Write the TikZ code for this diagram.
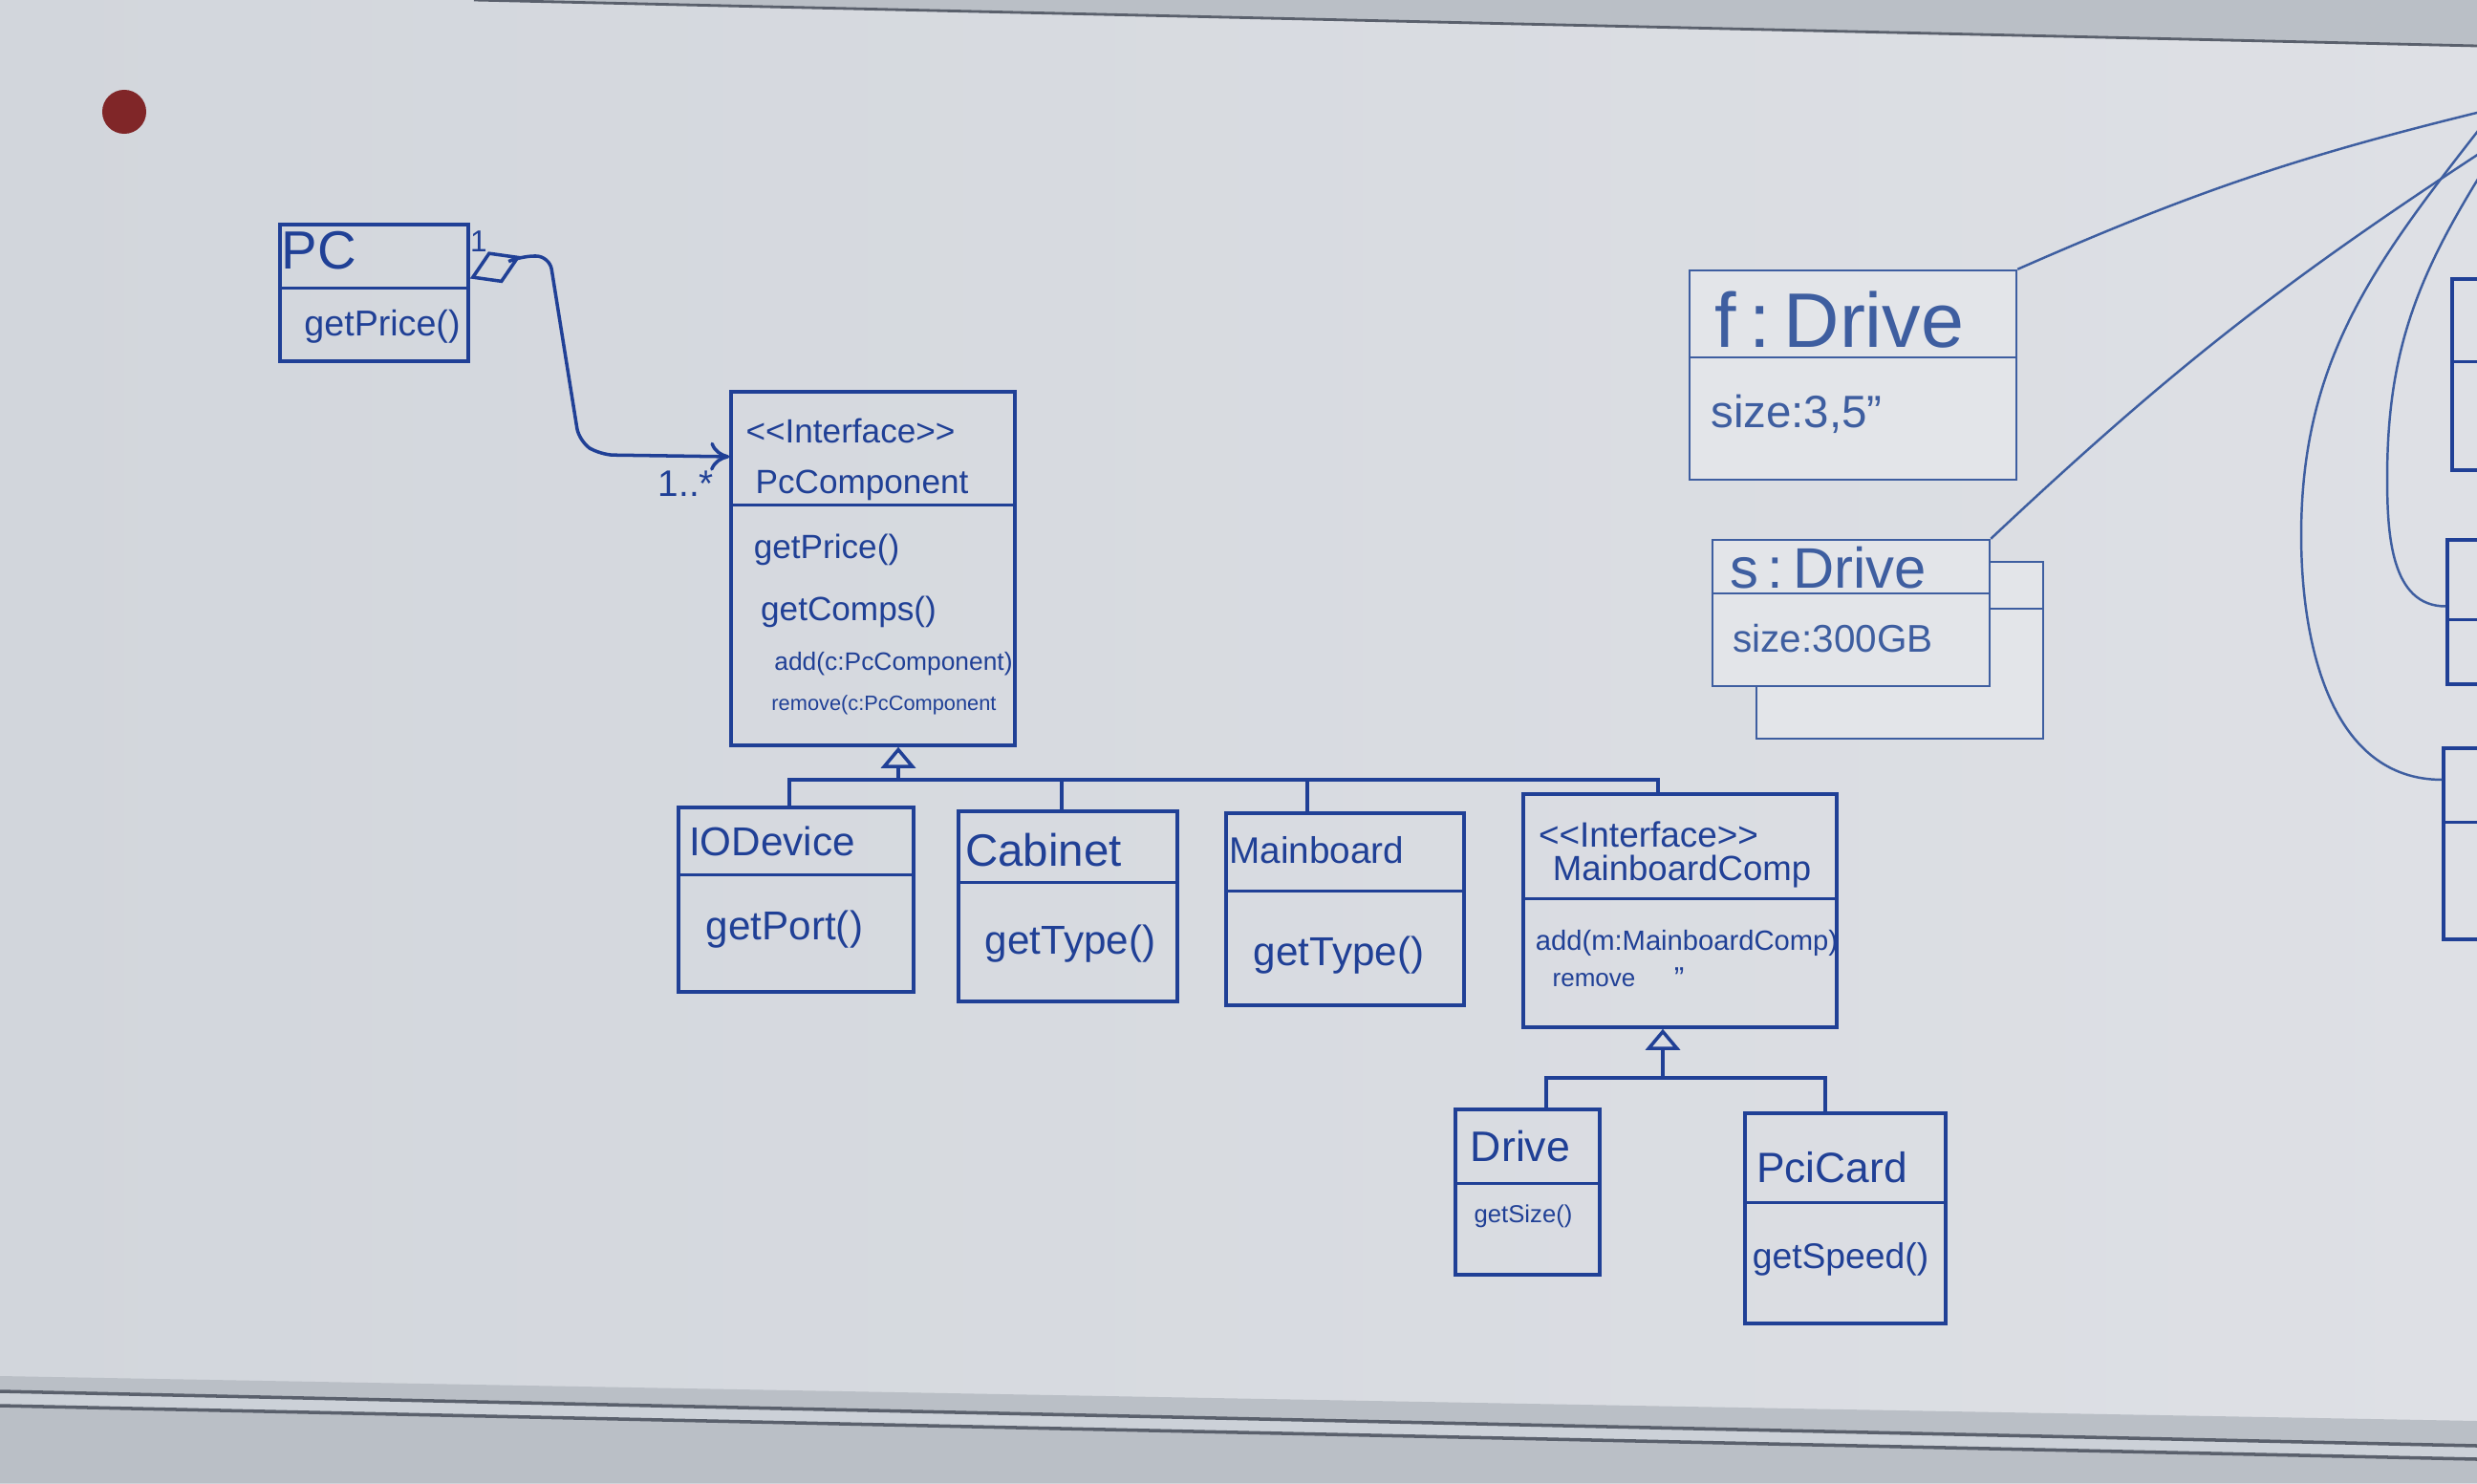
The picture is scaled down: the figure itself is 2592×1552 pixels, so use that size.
\documentclass[tikz,border=0pt]{standalone}
\usepackage{fontspec}
\setmainfont{Liberation Sans}
\usetikzlibrary{arrows.meta,fit,calc}
\definecolor{ink}{RGB}{32,64,150}
\definecolor{inkl}{RGB}{62,94,160}
\definecolor{boardL}{RGB}{210,214,220}
\definecolor{boardM}{RGB}{234,235,238}
\definecolor{boardR}{RGB}{222,224,229}
\definecolor{frame}{RGB}{186,191,198}
\definecolor{rail}{RGB}{204,209,216}
\definecolor{framedark}{RGB}{90,96,108}
\definecolor{magnet}{RGB}{128,38,40}
\newcommand\fsz[1]{\fontsize{#1}{#1}\selectfont}
\begin{document}
\begin{tikzpicture}[x=0.01cm,y=-0.01cm,
  box/.style={draw=ink, line width=1pt, inner sep=0pt},
  obox/.style={draw=inkl, line width=0.7pt, inner sep=0pt, fill=boardM!45!boardR},
  txt/.style={text=ink, inner sep=0pt},
  otxt/.style={text=inkl, inner sep=0pt},
  link/.style={draw=ink, line width=1pt},
  olink/.style={draw=inkl, line width=0.7pt},
  gen/.style={link, -{Triangle[open, length=0.22cm, width=0.36cm, line width=1pt]}}]

% board background
\clip (0,0) rectangle (2592,1552);
\shade[left color=boardL, middle color=boardM, right color=boardR] (0,0) rectangle (2592,1552);
\fill[frame] (496,0) -- (2592,0) -- (2592,48) -- cycle;
\draw[framedark, line width=0.8pt] (496,0) -- (2592,48);
\fill[frame] (0,1440) -- (2592,1487) -- (2592,1513) -- (0,1456) -- cycle;
\fill[rail] (0,1456) -- (2592,1513) -- (2592,1527) -- (0,1471) -- cycle;
\fill[frame] (0,1471) -- (2592,1527) -- (2592,1552) -- (0,1552) -- cycle;
\draw[framedark, line width=1pt] (0,1456) -- (2592,1513);
\draw[framedark, line width=1pt] (0,1471) -- (2592,1527);
\node[circle, fill=magnet, inner sep=0pt, minimum size=0.46cm] (magnet) at (130,117) {};

% class boxes
\node[box, fit={(293,235) (490,378)}] (pc) {};
\draw[ink, line width=1pt] ([yshift=-0.68cm]pc.north west) -- ([yshift=-0.68cm]pc.north east);
\node[txt, font=\fsz{16}] (pcT) at (334,262) {PC};
\node[txt, font=\fsz{10.7}] (pcM) at (400,342) {getPrice()};

\node[box, fit={(765,410) (1062,780)}] (pcc) {};
\draw[ink, line width=1pt] ([yshift=-1.2cm]pcc.north west) -- ([yshift=-1.2cm]pcc.north east);
\node[txt, font=\fsz{10}] (pccS) at (890,451) {<\kern0pt<Interface>\kern0pt>};
\node[txt, font=\fsz{10}] (pccN) at (902,508) {PcComponent};
\node[txt, font=\fsz{10}] (pccM1) at (865,575) {getPrice()};
\node[txt, font=\fsz{10}] (pccM2) at (888,640) {getComps()};
\node[txt, font=\fsz{7.5}] (pccM3) at (935,695) {add(c:PcComponent)};
\node[txt, font=\fsz{6.2}] (pccM4) at (925,738) {remove(c:PcComponent};

\node[box, fit={(710,845) (956,1038)}] (io) {};
\draw[ink, line width=1pt] ([yshift=-0.72cm]io.north west) -- ([yshift=-0.72cm]io.north east);
\node[txt, font=\fsz{12}] (ioT) at (808,880) {IODevice};
\node[txt, font=\fsz{12}] (ioM) at (821,973) {getPort()};

\node[box, fit={(1003,849) (1232,1048)}] (cab) {};
\draw[ink, line width=1pt] ([yshift=-0.76cm]cab.north west) -- ([yshift=-0.76cm]cab.north east);
\node[txt, font=\fsz{13.5}] (cabT) at (1092,890) {Cabinet};
\node[txt, font=\fsz{12}] (cabM) at (1120,988) {getType()};

\node[box, fit={(1283,851) (1532,1052)}] (mb) {};
\draw[ink, line width=1pt] ([yshift=-0.83cm]mb.north west) -- ([yshift=-0.83cm]mb.north east);
\node[txt, font=\fsz{11}] (mbT) at (1378,890) {Mainboard};
\node[txt, font=\fsz{12}] (mbM) at (1401,1000) {getType()};

\node[box, fit={(1594,831) (1922,1075)}] (mbc) {};
\draw[ink, line width=1pt] ([yshift=-1.11cm]mbc.north west) -- ([yshift=-1.11cm]mbc.north east);
\node[txt, font=\fsz{10.5}] (mbcS) at (1725,873) {<\kern0pt<Interface>\kern0pt>};
\node[txt, font=\fsz{10.4}] (mbcN) at (1760,912) {MainboardComp};
\node[txt, font=\fsz{8.3}] (mbcM1) at (1765,987) {add(m:MainboardComp)};
\node[txt, font=\fsz{7.4}] (mbcM2) at (1668,1026) {remove};
\node[txt, font=\fsz{9}] (mbcM3) at (1757,1024) {"};

\node[box, fit={(1523,1161) (1674,1334)}] (drv) {};
\draw[ink, line width=1pt] ([yshift=-0.79cm]drv.north west) -- ([yshift=-0.79cm]drv.north east);
\node[txt, font=\fsz{12.7}] (drvT) at (1591,1200) {Drive};
\node[txt, font=\fsz{7.3}] (drvM) at (1594,1273) {getSize()};

\node[box, fit={(1826,1165) (2036,1385)}] (pci) {};
\draw[ink, line width=1pt] ([yshift=-0.95cm]pci.north west) -- ([yshift=-0.95cm]pci.north east);
\node[txt, font=\fsz{12.6}] (pciT) at (1917,1222) {PciCard};
\node[txt, font=\fsz{10.6}] (pciM) at (1926,1318) {getSpeed()};

% object boxes
\node[obox, fit={(1768,283) (2110,502)}] (fdrv) {};
\draw[inkl, line width=0.7pt] ([yshift=-0.92cm]fdrv.north west) -- ([yshift=-0.92cm]fdrv.north east);
\node[otxt, font=\fsz{23}] (fT) at (1925,335) {f\,:\,Drive};
\node[otxt, font=\fsz{13.5}] (fM) at (1880,433) {size:3,5"};

\node[obox, fit={(1838,588) (2138,773)}] (sback) {};
\draw[inkl, line width=0.7pt] ([yshift=-0.5cm]sback.north west) -- ([yshift=-0.5cm]sback.north east);
\node[obox, fit={(1792,565) (2082,718)}] (sdrv) {};
\draw[inkl, line width=0.7pt] ([yshift=-0.57cm]sdrv.north west) -- ([yshift=-0.57cm]sdrv.north east);
\node[otxt, font=\fsz{17}] (sT) at (1913,594) {s\,:\,Drive};
\node[otxt, font=\fsz{11.5}] (sM) at (1918,668) {size:300GB};

% boxes cut by the right edge
\node[box, fit={(2566,292) (2700,492)}] (r1) {};
\draw[ink, line width=1pt] ([yshift=-0.88cm]r1.north west) -- ([yshift=-0.88cm]r1.north east);
\node[box, fit={(2561,565) (2700,716)}] (r2) {};
\draw[ink, line width=1pt] ([yshift=-0.85cm]r2.north west) -- ([yshift=-0.85cm]r2.north east);
\node[box, fit={(2557,783) (2700,983)}] (r3) {};
\draw[ink, line width=1pt] ([yshift=-0.79cm]r3.north west) -- ([yshift=-0.79cm]r3.north east);

% aggregation PC -> PcComponent
\coordinate (a1) at (545,268);
\coordinate (a2) at (575,268);
\coordinate (a3) at (606,462);
\coordinate (a4) at (628,476);
\draw[link, rounded corners=0.14cm,
  {Diamond[open, length=0.58cm, width=0.36cm, line width=1pt]}-{Computer Modern Rightarrow[length=0.2cm, width=0.3cm, line width=1pt]}]
  ([yshift=0.15cm]pc.east) -- (a1) -- (a2) -- (a3) -- (a4) -- ([yshift=1.17cm]pcc.west);
\node[txt, font=\fsz{9}] (m1) at (501,253) {1};
\node[txt, font=\fsz{11}] (m2) at (718,506) {1..*};

% generalisation to PcComponent
\coordinate (g1) at (940,816);
\coordinate (bIO) at (826,816);
\coordinate (bCab) at (1111,816);
\coordinate (bMB) at (1368,816);
\coordinate (bMC) at (1735,816);
\draw[gen] (g1) -- (pcc.south -| g1);
\draw[link] (io.north -| bIO) -- (bIO) -- (bMC) -- (mbc.north -| bMC);
\draw[link] (bCab) -- (cab.north -| bCab);
\draw[link] (bMB) -- (mb.north -| bMB);

% generalisation to MainboardComp
\coordinate (g2) at (1740,1128);
\coordinate (bDrv) at (1618,1128);
\coordinate (bPci) at (1910,1128);
\draw[gen] (g2) -- (mbc.south -| g2);
\draw[link] (drv.north -| bDrv) -- (bDrv) -- (bPci) -- (pci.north -| bPci);

% links on the right
\coordinate (e1) at (2600,116);
\coordinate (e2) at (2600,157);
\coordinate (e3) at (2600,176);
\coordinate (e4) at (2600,128);
\draw[olink] (fdrv.north east) to[bend left=5] (e1);
\draw[olink] (sdrv.north east) to[bend left=5] (e2);
\draw[olink] (e3) to[out=238,in=90] (2498,500) to[out=-90,in=180] ([yshift=0.06cm]r2.west);
\draw[olink] (e4) to[out=232,in=90] (2408,560) to[out=-90,in=180] ([yshift=0.67cm]r3.west);
\end{tikzpicture}
\end{document}
